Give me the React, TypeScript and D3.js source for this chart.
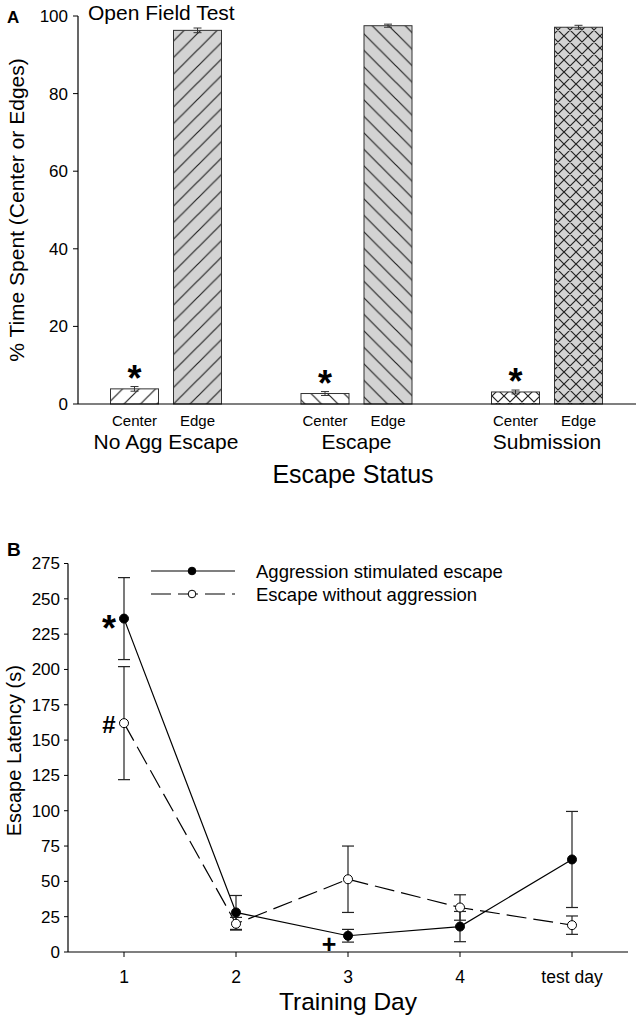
import React from 'react';
import * as d3 from 'd3';

// panel A: open field test
const groups = ['No Agg Escape', 'Escape', 'Submission'];
const zones = ['Center', 'Edge'];
const centerPct = [3.9, 2.7, 3.1];
const centerErr = [0.6, 0.5, 0.5];
const edgePct = [96.3, 97.5, 97.1];
const edgeErr = [0.6, 0.4, 0.5];
const pctTicks = [0, 20, 40, 60, 80, 100];

// panel B: escape latency
const days = ['1', '2', '3', '4', 'test day'];
const aggMean = [236, 28, 11.5, 18, 65.5];
const aggErr = [29, 12, 4.5, 10.7, 34];
const noAggMean = [162, 20, 51.5, 31.5, 19];
const noAggErr = [40, 4.5, 23.5, 9, 6.5];
const latTicks = [0, 25, 50, 75, 100, 125, 150, 175, 200, 225, 250, 275];

const FONT = '"Liberation Sans", Arial, sans-serif';
const GREY = '#d3d3d3';

const fwd = (s: number) => `M0,${s}L${s},0M${-s / 4},${s / 4}L${s / 4},${-s / 4}M${(3 * s) / 4},${(5 * s) / 4}L${(5 * s) / 4},${(3 * s) / 4}`;
const back = (s: number) => `M0,0L${s},${s}M${-s / 4},${(3 * s) / 4}L${s / 4},${(5 * s) / 4}M${(3 * s) / 4},${-s / 4}L${(5 * s) / 4},${s / 4}`;

const Hatch = ({ id, bg, d, s }: { id: string; bg: string; d: string; s: number }) => (
  <pattern id={id} patternUnits="userSpaceOnUse" width={s} height={s}>
    <rect width={s} height={s} fill={bg} />
    <path d={d} stroke="#222" strokeWidth={1.2} fill="none" />
  </pattern>
);

const patterns = [
  ['url(#fwdW)', 'url(#fwdG)'],
  ['url(#backW)', 'url(#backG)'],
  ['url(#crossW)', 'url(#crossG)'],
];

export default function App() {
  // panel A scales
  const yA = d3.scaleLinear().domain([0, 100]).range([404, 16]);
  const gx = d3.scaleLinear().domain([0, 2]).range([166, 547]);
  const offset = d3.scaleOrdinal<string, number>().domain(zones).range([-31.5, 31.5]);
  const barW = 48;

  // panel B scales
  const xB = d3.scaleLinear().domain([-0.5, 4.5]).range([68, 628]);
  const yB = d3.scaleLinear().domain([0, 275]).range([952, 563.5]);
  const line = d3.line<number>().x((_, i) => xB(i)).y((d) => yB(d));

  const bars = groups.flatMap((g, i) => [
    { g: i, zone: 'Center', v: centerPct[i], e: centerErr[i] },
    { g: i, zone: 'Edge', v: edgePct[i], e: edgeErr[i] },
  ]);

  const series = [
    { mean: aggMean, err: aggErr, fill: '#000', dash: undefined },
    { mean: noAggMean, err: noAggErr, fill: '#fff', dash: '20,7' },
  ];

  return (
    <svg width={638} height={1023} style={{ position: 'absolute', left: 0, top: 0 }} fontFamily={FONT}>
      <defs>
        <Hatch id="fwdW" bg="#fff" d={fwd(16.5)} s={16.5} />
        <Hatch id="fwdG" bg={GREY} d={fwd(16.5)} s={16.5} />
        <Hatch id="backW" bg="#fff" d={back(16.5)} s={16.5} />
        <Hatch id="backG" bg={GREY} d={back(16.5)} s={16.5} />
        <Hatch id="crossW" bg="#fff" d={fwd(12) + back(12)} s={12} />
        <Hatch id="crossG" bg={GREY} d={fwd(12) + back(12)} s={12} />
      </defs>

      {/* ---------- Panel A ---------- */}
      <text x={7} y={23} fontSize={17} fontWeight="bold">A</text>
      <text x={88} y={20} fontSize={21}>Open Field Test</text>

      {bars.map((b, i) => {
        const cx = gx(b.g) + offset(b.zone);
        return (
          <g key={i}>
            <rect x={cx - barW / 2} y={yA(b.v)} width={barW} height={yA(0) - yA(b.v)}
              fill={patterns[b.g][b.zone === 'Center' ? 0 : 1]} stroke="#333" strokeWidth={1} />
            <line x1={cx} x2={cx} y1={yA(b.v - b.e)} y2={yA(b.v + b.e)} stroke="#333" />
            <line x1={cx - 4} x2={cx + 4} y1={yA(b.v + b.e)} y2={yA(b.v + b.e)} stroke="#333" />
            <line x1={cx - 4} x2={cx + 4} y1={yA(b.v - b.e)} y2={yA(b.v - b.e)} stroke="#333" />
          </g>
        );
      })}

      {groups.map((g, i) => (
        <g key={g}>
          <text x={gx(i) + offset('Center')} y={yA(centerPct[i]) + 2} fontSize={36} fontWeight="bold" textAnchor="middle">*</text>
          {zones.map((z) => (
            <text key={z} x={gx(i) + offset(z)} y={426} fontSize={15} textAnchor="middle">{z}</text>
          ))}
          <text x={gx(i)} y={449} fontSize={21} textAnchor="middle">{g}</text>
        </g>
      ))}

      <line x1={78} x2={78} y1={yA(100)} y2={yA(0)} stroke="#000" strokeWidth={1.2} />
      <line x1={78} x2={636} y1={yA(0)} y2={yA(0)} stroke="#000" strokeWidth={1.2} />
      {pctTicks.map((t) => (
        <g key={t}>
          <line x1={73} x2={78} y1={yA(t)} y2={yA(t)} stroke="#000" />
          <text x={68} y={yA(t)} dy="0.35em" fontSize={17} textAnchor="end">{t}</text>
        </g>
      ))}
      <text transform={`translate(24,${(yA(0) + yA(100)) / 2}) rotate(-90)`} fontSize={21} textAnchor="middle">
        % Time Spent (Center or Edges)
      </text>
      <text x={353} y={483} fontSize={25} textAnchor="middle">Escape Status</text>

      {/* ---------- Panel B ---------- */}
      <text x={7} y={556} fontSize={19} fontWeight="bold">B</text>

      {series.map((s, k) => (
        <path key={k} d={line(s.mean) || ''} fill="none" stroke="#000" strokeWidth={1.2} strokeDasharray={s.dash} />
      ))}
      {series.map((s, k) => (
        <g key={k}>
          {s.mean.map((m, i) => {
            const cx = xB(i);
            return (
              <g key={i}>
                <line x1={cx} x2={cx} y1={yB(m - s.err[i])} y2={yB(m + s.err[i])} stroke="#222" strokeWidth={1.2} />
                <line x1={cx - 6} x2={cx + 6} y1={yB(m + s.err[i])} y2={yB(m + s.err[i])} stroke="#222" strokeWidth={1.2} />
                <line x1={cx - 6} x2={cx + 6} y1={yB(m - s.err[i])} y2={yB(m - s.err[i])} stroke="#222" strokeWidth={1.2} />
              </g>
            );
          })}
        </g>
      ))}
      {series.map((s, k) => (
        <g key={k}>
          {s.mean.map((m, i) => (
            <circle key={i} cx={xB(i)} cy={yB(m)} r={4.5} fill={s.fill} stroke="#000" strokeWidth={1} />
          ))}
        </g>
      ))}

      <text x={xB(0) - 15} y={yB(aggMean[0]) + 22} fontSize={36} fontWeight="bold" textAnchor="middle">*</text>
      <text x={xB(0) - 15} y={yB(noAggMean[0]) + 10} fontSize={24} fontWeight="bold" textAnchor="middle">#</text>
      <text x={xB(2) - 19} y={yB(0) + 1} fontSize={25} fontWeight="bold" textAnchor="middle">+</text>

      <line x1={68} x2={68} y1={yB(275)} y2={yB(0)} stroke="#000" strokeWidth={1.2} />
      <line x1={68} x2={628} y1={yB(0)} y2={yB(0)} stroke="#000" strokeWidth={1.2} />
      {latTicks.map((t) => (
        <g key={t}>
          <line x1={64} x2={68} y1={yB(t)} y2={yB(t)} stroke="#000" />
          <text x={60} y={yB(t)} dy="0.35em" fontSize={17} textAnchor="end">{t}</text>
        </g>
      ))}
      {days.map((d, i) => (
        <g key={d}>
          <line x1={xB(i)} x2={xB(i)} y1={yB(0)} y2={yB(0) + 5} stroke="#000" />
          <text x={xB(i)} y={983} fontSize={17.5} textAnchor="middle">{d}</text>
        </g>
      ))}
      <text transform={`translate(21,${(yB(0) + yB(275)) / 2 - 7}) rotate(-90)`} fontSize={20} textAnchor="middle">
        Escape Latency (s)
      </text>
      <text x={348} y={1010} fontSize={24.5} textAnchor="middle">Training Day</text>

      {/* legend */}
      {['Aggression stimulated escape', 'Escape without aggression'].map((label, k) => (
        <g key={label}>
          <line x1={151} x2={235} y1={571 + k * 23} y2={571 + k * 23} stroke="#000" strokeWidth={1.2} strokeDasharray={series[k].dash} />
          <circle cx={192} cy={571 + k * 23} r={3.8} fill={series[k].fill} stroke="#000" />
          <text x={256} y={578 + k * 23} fontSize={18.5}>{label}</text>
        </g>
      ))}
    </svg>
  );
}
